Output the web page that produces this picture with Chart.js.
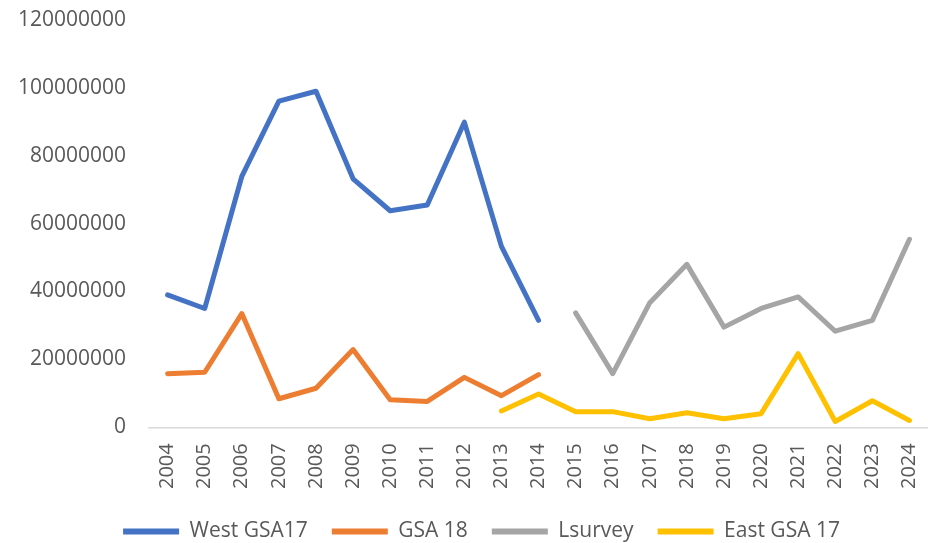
<!DOCTYPE html>
<html>
<head>
<meta charset="utf-8">
<script src="https://cdn.jsdelivr.net/npm/chart.js@4/dist/chart.umd.min.js"></script>
<style>
  html, body { margin: 0; padding: 0; background: #fff; }
  #wrap { width: 928px; height: 543px; }
</style>
</head>
<body>
<div id="wrap"><canvas id="chart"></canvas></div>
<script>
const years = ["2004", "2005", "2006", "2007", "2008", "2009", "2010", "2011", "2012", "2013", "2014",
  "2015", "2016", "2017", "2018", "2019", "2020", "2021", "2022", "2023", "2024"];

const westGsa17 = [39000000, 35000000, 73900000, 96100000, 99000000, 73200000, 63800000, 65500000, 89900000, 53300000, 31500000,
  null, null, null, null, null, null, null, null, null, null];
const gsa18 = [15800000, 16200000, 33500000, 8400000, 11500000, 22900000, 8100000, 7600000, 14700000, 9300000, 15500000,
  null, null, null, null, null, null, null, null, null, null];
const lsurvey = [null, null, null, null, null, null, null, null, null, null, null,
  33700000, 15800000, 36700000, 48000000, 29500000, 35000000, 38400000, 28300000, 31500000, 55400000];
const eastGsa17 = [null, null, null, null, null, null, null, null, null, 4800000, 9800000,
  4600000, 4600000, 2500000, 4300000, 2500000, 4000000, 21700000, 1700000, 7800000, 2000000];

const TEXT = "#595959";

function series(label, data, color) {
  return {
    label,
    data,
    borderColor: color,
    backgroundColor: color,
    borderWidth: 5,
    pointRadius: 0,
    pointHoverRadius: 0,
    borderCapStyle: "round",
    borderJoinStyle: "round",
    spanGaps: false,
    tension: 0,
  };
}

// legend sits a bit right of the canvas centre in the original
const nudgeLegend = {
  id: "nudgeLegend",
  afterLayout(chart) {
    chart.legend.left += 16;
    chart.legend.right += 16;
  },
};

new Chart(document.getElementById("chart").getContext("2d"), {
  type: "line",
  data: {
    labels: years,
    datasets: [
      series("West GSA17", westGsa17, "#4472C4"),
      series("GSA 18", gsa18, "#ED7D31"),
      series("Lsurvey", lsurvey, "#A5A5A5"),
      series("East GSA 17", eastGsa17, "#FFC000"),
    ],
  },
  plugins: [nudgeLegend],
  options: {
    responsive: true,
    maintainAspectRatio: false,
    animation: false,
    layout: { padding: { left: 3, top: 20, right: 0, bottom: -9 } },
    scales: {
      x: {
        offset: true,
        grid: { display: false },
        border: { color: "#D9D9D9", width: 1.5 },
        ticks: {
          color: TEXT,
          font: { family: "Open Sans", size: 20 },
          minRotation: 90,
          maxRotation: 90,
          padding: 8,
        },
        // rotated labels reserve side room we don't want
        afterFit: (scale) => {
          scale.paddingLeft = 0;
          scale.paddingRight = 0;
        },
      },
      y: {
        min: 0,
        max: 120000000,
        grid: { display: false },
        border: { display: false },
        ticks: {
          stepSize: 20000000,
          color: TEXT,
          font: { family: "Open Sans", size: 21 },
          padding: 15,
          callback: (v) => String(v),
        },
        afterFit: (scale) => {
          scale.paddingTop = 0;
        },
      },
    },
    plugins: {
      legend: {
        position: "bottom",
        labels: {
          color: TEXT,
          font: { family: "Open Sans", size: 21 },
          boxWidth: 56,
          boxHeight: 6,
          padding: 24,
          generateLabels: (chart) =>
            Chart.defaults.plugins.legend.labels.generateLabels(chart).map((item) => ({
              ...item,
              lineWidth: 0,
            })),
        },
      },
      tooltip: { enabled: false },
    },
  },
});
</script>
</body>
</html>
